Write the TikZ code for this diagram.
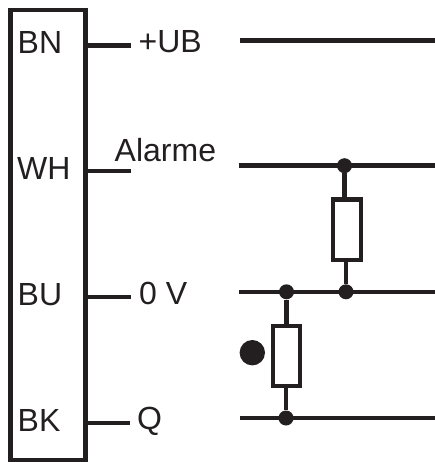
\documentclass[tikz,border=0pt]{standalone}
\usepackage{fontspec}
\setmainfont{Liberation Sans}
\usetikzlibrary{calc}
\definecolor{ink}{HTML}{231F20}
\tikzset{
	wire/.style={line width=4.4pt, color=ink},
	pinlabel/.style={inner sep=0pt, anchor=base west, text=ink, font=\fontsize{32}{32}\selectfont},
	strip/.style={draw=ink, line width=4.2pt, minimum width=75pt, minimum height=450.5pt, inner sep=0pt},
	resistor/.style={draw=ink, fill=white, line width=4.2pt, minimum width=27.6pt, minimum height=60.4pt, inner sep=0pt},
	junction/.style={circle, fill=ink, minimum size=15pt, inner sep=0pt},
	led/.style={circle, fill=ink, minimum size=25.4pt, inner sep=0pt}
}
\begin{document}
\begin{tikzpicture}[x=1pt, y=-1pt]
			\useasboundingbox (0,0) rectangle (435,462);
			% connector strip
			\node[strip] (strip) at (48,235.3) {};
			\node[pinlabel] (bn) at (17.5,54) {BN};
			\node[pinlabel] (wh) at (17,179) {WH};
			\node[pinlabel] (bu) at (17.5,305) {BU};
			\node[pinlabel] (bk) at (17.5,431) {BK};
			\node[pinlabel] (ub) at (138.5,52.5) {+UB};
			\node[pinlabel] (alarme) at (114.5,162) {Alarme};
			\node[pinlabel] (zero) at (139,304) {0 V};
			\node[pinlabel] (q) at (137,429.5) {Q};
			% pins
			\coordinate (pinbn) at (85.5,45.7);
			\coordinate (pinbnend) at (131,45.7);
			\coordinate (pinwh) at (85.5,171.3);
			\coordinate (pinwhend) at (131,171.3);
			\coordinate (pinbu) at (85.5,297);
			\coordinate (pinbuend) at (131,297);
			\coordinate (pinbk) at (85.5,423);
			\coordinate (pinbkend) at (130,423);
			\draw[wire] (pinbn) -- (pinbnend);
			\draw[wire] (pinwh) -- (pinwhend);
			\draw[wire] (pinbu) -- (pinbuend);
			\draw[wire] (pinbk) -- (pinbkend);
			% wires
			\coordinate (ubleft) at (240,40.7);
			\coordinate (ubright) at (435,40.7);
			\coordinate (alarmeleft) at (238.5,165.7);
			\coordinate (alarmeright) at (435,165.7);
			\coordinate (zeroleft) at (239,291.8);
			\coordinate (zeroright) at (435,291.8);
			\coordinate (qleft) at (240,418);
			\coordinate (qright) at (435,418);
			\draw[wire] (ubleft) -- (ubright);
			\draw[wire] (alarmeleft) -- (alarmeright);
			\draw[wire] (zeroleft) -- (zeroright);
			\draw[wire] (qleft) -- (qright);
			% resistors
			\node[junction] (ja) at (344.5,165.7) {};
			\node[junction] (jb) at (346,291.8) {};
			\node[junction] (jc) at (286.5,291.8) {};
			\node[junction] (jd) at (286,418) {};
			\node[resistor] (ra) at (346.8,229.7) {};
			\node[resistor] (rb) at (286.5,355.8) {};
			\draw[wire] (ja) -- (ja |- ra.north);
			\draw[wire] (jb) -- (jb |- ra.south);
			\draw[wire] (jc) -- (jc |- rb.north);
			\draw[wire] (jd) -- (jd |- rb.south);
			\node[led] (dot) at (252.3,352.7) {};
		\end{tikzpicture}
\end{document}
